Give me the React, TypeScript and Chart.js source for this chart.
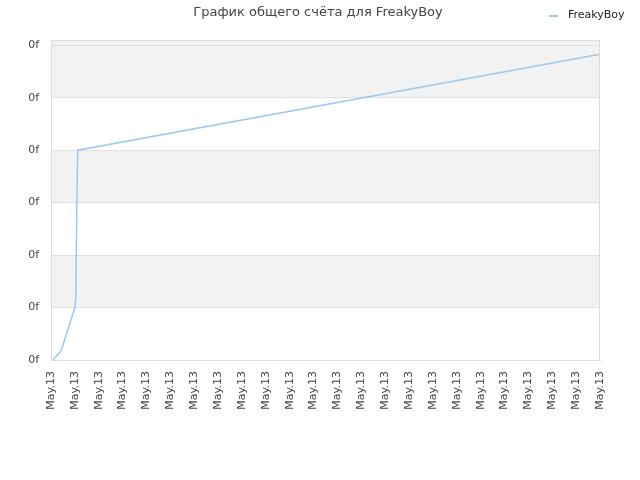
import React, { useEffect, useRef } from "react";
import { Chart, registerables } from "chart.js";

Chart.register(...registerables);

const TITLE = "График общего счёта для FreakyBoy";
const SERIES_NAME = "FreakyBoy";
const X_TICK_LABEL = "May.13";
const Y_TICK_LABEL = "0f";
const X_POSITIONS = [0.08, 0.42, 1.0, 1.04, 1.08, 1.12, 23];
const SCORES = [0, 0.17, 1.0, 1.2, 2.9, 4.0, 5.83];
const Y_TICK_VALUES = [0, 1, 2, 3, 4, 5, 6];
const X_MAX = 23;
const Y_MAX = 6.1;

const FONT = "'DejaVu Sans', sans-serif";
const LINE_COLOR = "#99c8f5";

const decorPlugin = {
  id: "decor",
  beforeDraw(chart: any) {
    const { ctx, chartArea } = chart;
    const y = chart.scales.y;
    ctx.save();
    ctx.fillStyle = "#f2f2f2";
    const bands = [
      [1, 2],
      [3, 4],
      [5, Y_MAX],
    ];
    for (const [a, b] of bands) {
      const top = y.getPixelForValue(b);
      const bot = y.getPixelForValue(a);
      ctx.fillRect(chartArea.left, top, chartArea.right - chartArea.left, bot - top);
    }
    ctx.restore();
  },
  afterDraw(chart: any) {
    const { ctx, chartArea } = chart;
    ctx.save();
    ctx.strokeStyle = "#dcdcdc";
    ctx.lineWidth = 1;
    ctx.strokeRect(chartArea.left + 0.5, chartArea.top + 0.5, chartArea.right - chartArea.left - 1, chartArea.bottom - chartArea.top);
    // title
    ctx.fillStyle = "#444";
    ctx.font = `13px ${FONT}`;
    ctx.textAlign = "center";
    ctx.textBaseline = "middle";
    ctx.fillText(TITLE, 318, 13);
    // legend
    ctx.strokeStyle = LINE_COLOR;
    ctx.lineWidth = 2;
    ctx.beginPath();
    ctx.moveTo(549, 16);
    ctx.lineTo(558, 16);
    ctx.stroke();
    ctx.fillStyle = "#222";
    ctx.font = `11px ${FONT}`;
    ctx.textAlign = "left";
    ctx.fillText(SERIES_NAME, 568, 15);
    ctx.restore();
  },
};

export default function App() {
  const ref = useRef<HTMLCanvasElement>(null);
  useEffect(() => {
    document.body.style.margin = "0";
    const data = X_POSITIONS.map((x, i) => ({ x, y: SCORES[i] }));
    const chart = new Chart(ref.current!, {
      type: "line",
      data: {
        datasets: [
          {
            label: SERIES_NAME,
            data,
            borderColor: LINE_COLOR,
            backgroundColor: LINE_COLOR,
            borderWidth: 1.5,
            pointRadius: 0,
            tension: 0,
            fill: false,
          },
        ],
      },
      options: {
        animation: false,
        responsive: false,
        maintainAspectRatio: false,
        layout: { padding: { top: 40, right: 40, left: 0, bottom: 0 } },
        plugins: {
          legend: { display: false },
          title: { display: false },
          tooltip: { enabled: false },
        },
        scales: {
          x: {
            type: "linear",
            min: 0,
            max: X_MAX,
            afterFit(scale: any) {
              scale.height = 120;
            },
            grid: { display: false, drawTicks: false },
            border: { color: "#dcdcdc" },
            ticks: {
              stepSize: 1,
              autoSkip: false,
              minRotation: 90,
              maxRotation: 90,
              padding: 11,
              color: "#444",
              font: { family: FONT, size: 11 },
              callback: () => X_TICK_LABEL,
            },
          },
          y: {
            type: "linear",
            min: 0,
            max: Y_MAX,
            afterFit(scale: any) {
              scale.width = 51;
            },
            afterBuildTicks(scale: any) {
              scale.ticks = Y_TICK_VALUES.map((v) => ({ value: v }));
            },
            grid: { color: "#e0e0e0", drawTicks: false },
            border: { color: "#dcdcdc" },
            ticks: {
              padding: 12,
              color: "#444",
              font: { family: FONT, size: 11 },
              callback: () => Y_TICK_LABEL,
            },
          },
        },
      },
      plugins: [decorPlugin],
    });
    return () => chart.destroy();
  }, []);
  return (
    <div style={{ width: 640, height: 480 }}>
      <canvas ref={ref} width={640} height={480} style={{ width: 640, height: 480 }} />
    </div>
  );
}
